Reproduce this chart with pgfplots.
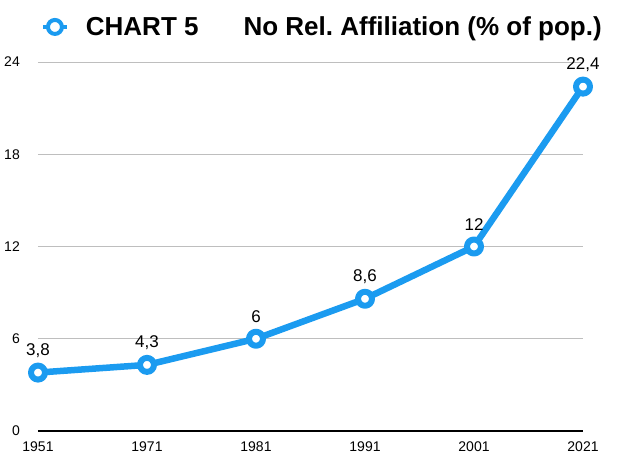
\documentclass[border=0pt]{standalone}
\usepackage{fontspec}
\setmainfont{Liberation Sans}
\usepackage{pgfplots}
\pgfplotsset{compat=1.18}
\definecolor{lineblue}{RGB}{27,155,240}
\definecolor{gridgray}{RGB}{190,190,190}
\frenchspacing

\begin{document}
\begin{tikzpicture}
\useasboundingbox (-38pt,-23pt) rectangle (579pt,431pt);
\begin{axis}[
  scale only axis,
  width=545pt,
  height=369pt,
  clip=false,
  xmin=0, xmax=5,
  ymin=0, ymax=24,
  xtick=data,
  xticklabels={1951,1971,1981,1991,2001,2021},
  ytick={0,6,12,18,24},
  axis x line*=bottom,
  axis y line*=left,
  x axis line style={black, line width=1.2pt, -},
  y axis line style={draw=none},
  major tick length=0pt,
  ymajorgrids,
  grid style={gridgray, line width=0.9pt},
  /pgf/number format/assume math mode=true,
  ticklabel style={font=\fontsize{14}{16}\selectfont, inner sep=0pt},
  yticklabel style={anchor=east, xshift=-18pt},
  xticklabel style={anchor=north, yshift=-11pt},
  nodes near coords={\pgfmathprintnumber[use comma]{\pgfplotspointmeta}},
  every node near coord/.style={anchor=center, yshift=22pt, black,
    font=\fontsize{17}{20}\selectfont},
  legend style={draw=none, fill=none, at={(0.005,1.095)}, anchor=west,
    font=\bfseries\fontsize{26}{30}\selectfont, inner sep=0pt},
  legend image code/.code={
    \draw[mark repeat=2, mark phase=2, #1, line width=4pt,
      mark options={line width=4pt, mark size=7pt, fill=white}]
      plot coordinates {(0pt,0pt) (12pt,0pt) (24pt,0pt)};
    \path[draw=none, fill=none] (0pt,0pt) -- (41pt,0pt);
  },
]
\addplot[lineblue, line width=6.5pt, line join=round,
  mark=*, mark size=7pt,
  mark options={draw=lineblue, fill=white, line width=6pt}]
  coordinates {(0,3.8) (1,4.3) (2,6) (3,8.6) (4,12) (5,22.4)};
\addlegendentry{CHART 5\hspace{45pt}No Rel. Affiliation (\% of pop.)}
\end{axis}
\end{tikzpicture}
\end{document}
